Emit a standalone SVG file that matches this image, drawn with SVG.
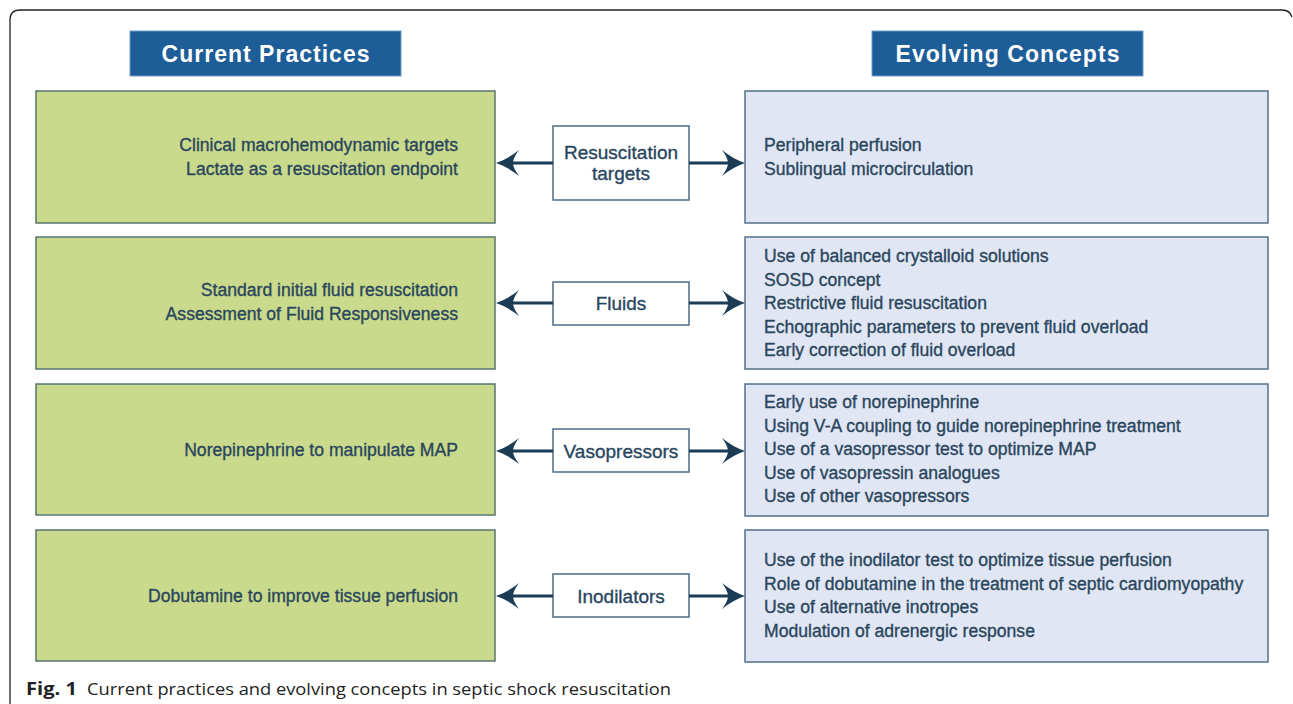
<svg xmlns="http://www.w3.org/2000/svg" width="1293" height="704" viewBox="0 0 1293 704">
  <style>
    .frame { fill: none; stroke: #222; stroke-width: 1.3; }
    .hdr { fill: #1d5d98; stroke: #6f9cc6; stroke-width: 1; }
    .hdrtxt { font-family: "Liberation Sans", Arial, sans-serif; font-weight: bold; font-size: 23px; fill: #ffffff; text-anchor: middle; }
    .green { fill: #c9da8c; stroke: #58746f; stroke-width: 1.5; }
    .blue { fill: #e1e6f5; stroke: #56708a; stroke-width: 1.5; }
    .mid { fill: #ffffff; stroke: #4c6b86; stroke-width: 1.5; }
    .txt { font-family: "Liberation Sans", Arial, sans-serif; font-size: 17.6px; fill: #2b465c; stroke: #2b465c; stroke-width: 0.35; }
    .ltxt { text-anchor: end; }
    .midtxt { font-family: "Liberation Sans", Arial, sans-serif; font-size: 19px; fill: #29465f; stroke: #29465f; stroke-width: 0.35; text-anchor: middle; }
    .conn { stroke: #1c3b55; stroke-width: 3; fill: none; marker-end: url(#arrow); }
    .cap { font-family: "Open Sans", "Noto Sans", sans-serif; font-size: 17px; fill: #222; }
  </style>
  <defs>
    <marker id="arrow" markerUnits="userSpaceOnUse" markerWidth="23" markerHeight="26" viewBox="0 -13 23 26" refX="17" refY="0" orient="auto">
      <path d="M23,0 Q11,-4 0,-13 Q6,-5 6,0 Q6,5 0,13 Q11,4 23,0 Z" fill="#1c3b55"/>
    </marker>
  </defs>

  <rect x="0" y="0" width="1293" height="704" fill="#ffffff"/>
  <path class="frame" d="M10,704 V20 Q10,10 20,10 H1282 Q1290,10 1292,17"/>

  <g id="header-current">
    <rect class="hdr" x="130" y="31" width="271" height="45"/>
    <text class="hdrtxt" x="265.5" y="61.5" textLength="208" lengthAdjust="spacing">Current Practices</text>
  </g>
  <g id="header-evolving">
    <rect class="hdr" x="872" y="31" width="271" height="45"/>
    <text class="hdrtxt" x="1007.5" y="61.5" textLength="224" lengthAdjust="spacing">Evolving Concepts</text>
  </g>

  <g id="current-targets">
    <rect class="green" x="36" y="91" width="459" height="132"/>
    <text class="txt ltxt" x="458" y="151">Clinical macrohemodynamic targets</text>
    <text class="txt ltxt" x="458" y="174.5">Lactate as a resuscitation endpoint</text>
  </g>
  <g id="current-fluids">
    <rect class="green" x="36" y="237" width="459" height="132"/>
    <text class="txt ltxt" x="458" y="296">Standard initial fluid resuscitation</text>
    <text class="txt ltxt" x="458" y="319.5">Assessment of Fluid Responsiveness</text>
  </g>
  <g id="current-vasopressors">
    <rect class="green" x="36" y="384" width="459" height="131"/>
    <text class="txt ltxt" x="458" y="456">Norepinephrine to manipulate MAP</text>
  </g>
  <g id="current-inodilators">
    <rect class="green" x="36" y="530" width="459" height="131"/>
    <text class="txt ltxt" x="458" y="602">Dobutamine to improve tissue perfusion</text>
  </g>

  <g id="cat-targets">
    <rect class="mid" x="553" y="126" width="136" height="74"/>
    <text class="midtxt" x="621" y="159">Resuscitation</text>
    <text class="midtxt" x="621" y="180">targets</text>
  </g>
  <g id="cat-fluids">
    <rect class="mid" x="553" y="282" width="136" height="43"/>
    <text class="midtxt" x="621" y="310">Fluids</text>
  </g>
  <g id="cat-vasopressors">
    <rect class="mid" x="553" y="429" width="136" height="43"/>
    <text class="midtxt" x="621" y="457.5">Vasopressors</text>
  </g>
  <g id="cat-inodilators">
    <rect class="mid" x="553" y="574" width="136" height="43"/>
    <text class="midtxt" x="621" y="602.5">Inodilators</text>
  </g>

  <g id="evolving-targets">
    <rect class="blue" x="745" y="91" width="523" height="132"/>
    <text class="txt" x="764" y="151">Peripheral perfusion</text>
    <text class="txt" x="764" y="174.5">Sublingual microcirculation</text>
  </g>
  <g id="evolving-fluids">
    <rect class="blue" x="745" y="237" width="523" height="132"/>
    <text class="txt" x="764" y="262">Use of balanced crystalloid solutions</text>
    <text class="txt" x="764" y="285.5">SOSD concept</text>
    <text class="txt" x="764" y="309">Restrictive fluid resuscitation</text>
    <text class="txt" x="764" y="332.5">Echographic parameters to prevent fluid overload</text>
    <text class="txt" x="764" y="356">Early correction of fluid overload</text>
  </g>
  <g id="evolving-vasopressors">
    <rect class="blue" x="745" y="384" width="523" height="132"/>
    <text class="txt" x="764" y="408">Early use of norepinephrine</text>
    <text class="txt" x="764" y="431.5">Using V-A coupling to guide norepinephrine treatment</text>
    <text class="txt" x="764" y="455">Use of a vasopressor test to optimize MAP</text>
    <text class="txt" x="764" y="478.5">Use of vasopressin analogues</text>
    <text class="txt" x="764" y="502">Use of other vasopressors</text>
  </g>
  <g id="evolving-inodilators">
    <rect class="blue" x="745" y="530" width="523" height="132"/>
    <text class="txt" x="764" y="566">Use of the inodilator test to optimize tissue perfusion</text>
    <text class="txt" x="764" y="589.5">Role of dobutamine in the treatment of septic cardiomyopathy</text>
    <text class="txt" x="764" y="613">Use of alternative inotropes</text>
    <text class="txt" x="764" y="636.5">Modulation of adrenergic response</text>
  </g>

  <g id="connectors">
    <line class="conn" x1="553" y1="163" x2="502" y2="163"/>
    <line class="conn" x1="689" y1="163" x2="739" y2="163"/>
    <line class="conn" x1="553" y1="303" x2="502" y2="303"/>
    <line class="conn" x1="689" y1="303" x2="739" y2="303"/>
    <line class="conn" x1="553" y1="451" x2="502" y2="451"/>
    <line class="conn" x1="689" y1="451" x2="739" y2="451"/>
    <line class="conn" x1="553" y1="596" x2="502" y2="596"/>
    <line class="conn" x1="689" y1="596" x2="739" y2="596"/>
  </g>

  <text class="cap" x="26" y="695"><tspan font-weight="bold" textLength="51" lengthAdjust="spacingAndGlyphs">Fig. 1</tspan><tspan x="87" textLength="584" lengthAdjust="spacingAndGlyphs">Current practices and evolving concepts in septic shock resuscitation</tspan></text>
</svg>
